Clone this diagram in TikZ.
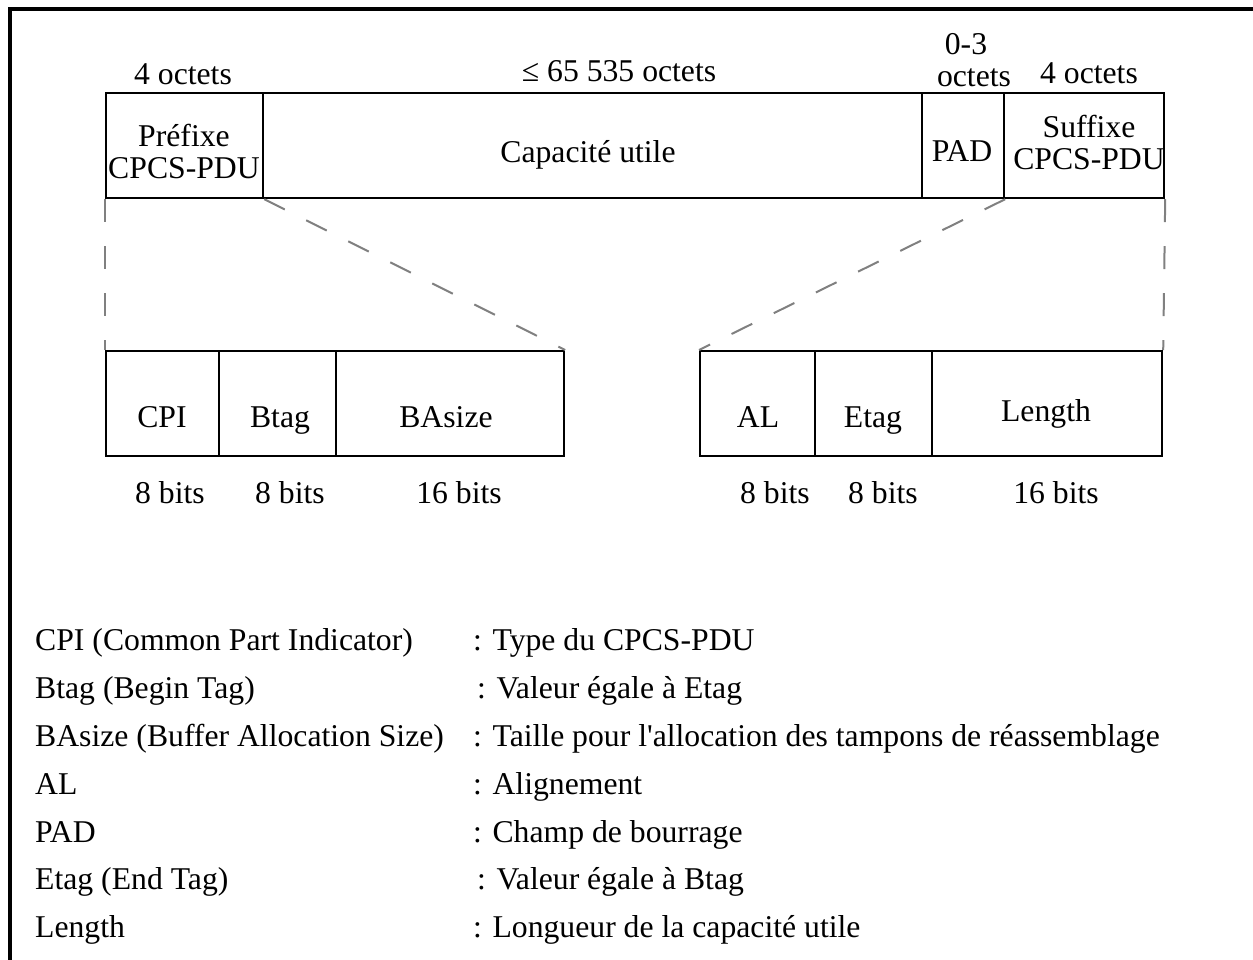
\documentclass[tikz,border=0pt]{standalone}
\usepackage{fontspec}
\setmainfont{Liberation Serif}
\begin{document}
\begin{tikzpicture}[x=1pt,y=-1pt,
  cell/.style={draw, line width=2.2pt, anchor=north west, inner sep=0pt, minimum height=105pt},
  txt/.style={anchor=base, inner sep=0pt, font=\fontsize{31.7}{34}\selectfont},
  leg/.style={anchor=base west, inner sep=0pt, font=\fontsize{31.7}{34}\selectfont},
  link/.style={draw=gray, line width=2pt, dash pattern=on 23pt off 24pt}]
\useasboundingbox (0,0) rectangle (1253,960);
% frame (top and left edges only)
\draw[line width=4pt] (10,960) -- (10,9) -- (1253,9);
% top row
\node[cell, minimum width=157pt] (pre) at (105,92) {};
\node[cell, minimum width=659pt] (cap) at (262,92) {};
\node[cell, minimum width=82pt]  (pad) at (921,92) {};
\node[cell, minimum width=160pt] (suf) at (1003,92) {};
% bottom left
\node[cell, minimum width=113pt] (cpi) at (105,350) {};
\node[cell, minimum width=117pt] (btag) at (218,350) {};
\node[cell, minimum width=228pt] (basize) at (335,350) {};
% bottom right
\node[cell, minimum width=115pt] (al) at (699,350) {};
\node[cell, minimum width=117pt] (etag) at (814,350) {};
\node[cell, minimum width=230pt] (len) at (931,350) {};
% dashed links
\draw[link] (pre.south west) -- (cpi.north west);
\draw[link] (pre.south east) -- (basize.north east);
\draw[link] (pad.south east) -- (al.north west);
\draw[link] (suf.south east) -- (len.north east);
% size labels top
\node[txt] (s1) at (183,85) {4 octets};
\node[txt] (s2) at (619,82) {≤ 65 535 octets};
\node[txt] (s3a) at (966,55) {0-3};
\node[txt] (s3b) at (974,87) {octets};
\node[txt] (s4) at (1089,84) {4 octets};
% cell texts top
\node[txt] (t1a) at (184,147) {Préfixe};
\node[txt] (t1b) at (184,179) {CPCS-PDU};
\node[txt] (t2) at (588,163) {Capacité utile};
\node[txt] (t3) at (962,162) {PAD};
\node[txt] (t4a) at (1089,138) {Suffixe};
\node[txt] (t4b) at (1089,170) {CPCS-PDU};
% bottom texts
\node[txt] (c1) at (162,427) {CPI};
\node[txt] (c2) at (280,427) {Btag};
\node[txt] (c3) at (446,427) {BAsize};
\node[txt] (c4) at (758,427) {AL};
\node[txt] (c5) at (873,427) {Etag};
\node[txt] (c6) at (1046,421) {Length};
\node[txt] (b1) at (170,503) {8 bits};
\node[txt] (b2) at (290,503) {8 bits};
\node[txt] (b3) at (459,503) {16 bits};
\node[txt] (b4) at (775,503) {8 bits};
\node[txt] (b5) at (883,503) {8 bits};
\node[txt] (b6) at (1056,503) {16 bits};
% legend
\node[leg] (l1) at (35,650) {CPI (Common Part Indicator)};
\node[leg] (r1) at (473,650) {: Type du CPCS-PDU};
\node[leg] (l2) at (35,698) {Btag (Begin Tag)};
\node[leg] (r2) at (477,698) {: Valeur égale à Etag};
\node[leg] (l3) at (35,746) {BAsize (Buffer Allocation Size)};
\node[leg] (r3) at (473,746) {: Taille pour l\textquotesingle allocation des tampons de réassemblage};
\node[leg] (l4) at (35,794) {AL};
\node[leg] (r4) at (473,794) {: Alignement};
\node[leg] (l5) at (35,842) {PAD};
\node[leg] (r5) at (473,842) {: Champ de bourrage};
\node[leg] (l6) at (35,889) {Etag (End Tag)};
\node[leg] (r6) at (477,889) {: Valeur égale à Btag};
\node[leg] (l7) at (35,937) {Length};
\node[leg] (r7) at (473,937) {: Longueur de la capacité utile};
\end{tikzpicture}
\end{document}
